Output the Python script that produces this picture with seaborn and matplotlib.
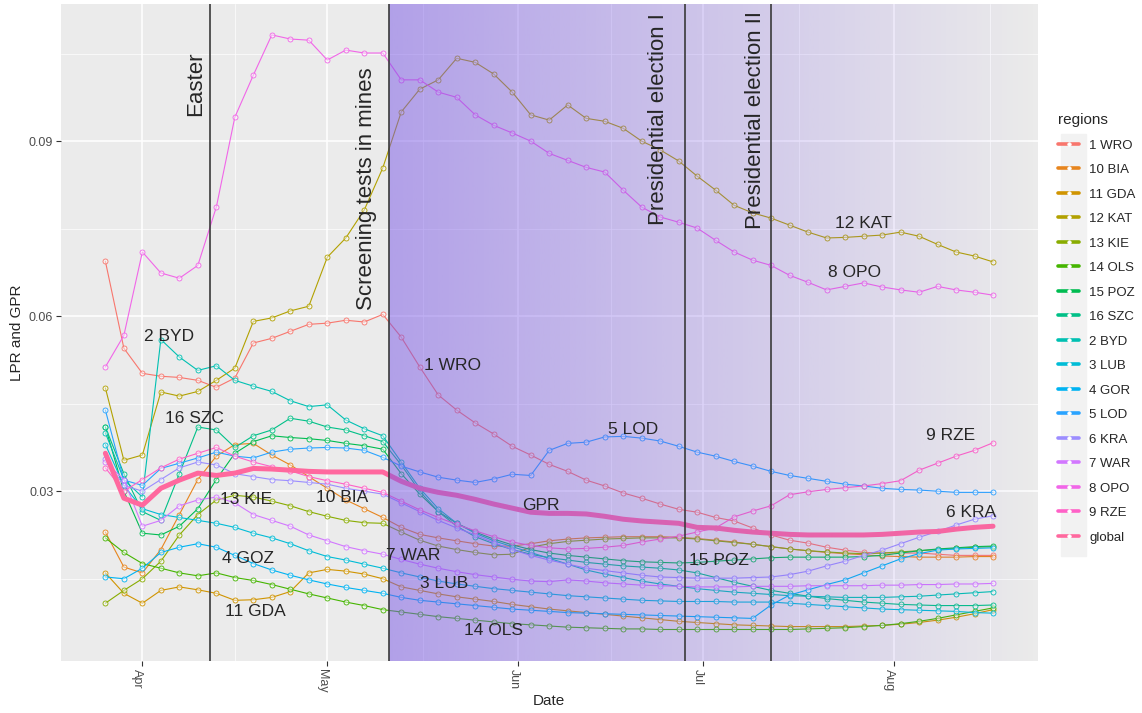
import numpy as np
import pandas as pd
import matplotlib
matplotlib.use('Agg')
import matplotlib.pyplot as plt
import matplotlib.dates as mdates
from matplotlib.lines import Line2D
from matplotlib.patches import Rectangle
from matplotlib.transforms import ScaledTranslation
import seaborn as sns

# values, one every 3rd day
dates = pd.date_range('2020-03-26', '2020-08-17', freq='3D')

wro = [0.0694, 0.0545, 0.0502, 0.0497, 0.0495, 0.0490, 0.0478, 0.0494, 0.0554, 0.0562,
       0.0574, 0.0586, 0.0588, 0.0593, 0.0590, 0.0603, 0.0564, 0.0513, 0.0465, 0.0439,
       0.0417, 0.0398, 0.0377, 0.0362, 0.0346, 0.0334, 0.0319, 0.0309, 0.0297, 0.0288,
       0.0278, 0.0269, 0.0264, 0.0255, 0.0249, 0.0237, 0.0225, 0.0216, 0.0211, 0.0204,
       0.0199, 0.0195, 0.0194, 0.0194, 0.0194, 0.0192, 0.0190, 0.0190, 0.0190]
bia = [0.0230, 0.0170, 0.0160, 0.0200, 0.0260, 0.0320, 0.0360, 0.0380, 0.0382, 0.0362,
       0.0345, 0.0325, 0.0305, 0.0285, 0.0270, 0.0255, 0.0238, 0.0226, 0.0220, 0.0215,
       0.0210, 0.0206, 0.0206, 0.0210, 0.0215, 0.0218, 0.0220, 0.0221, 0.0222, 0.0222,
       0.0222, 0.0221, 0.0219, 0.0216, 0.0213, 0.0209, 0.0205, 0.0201, 0.0198, 0.0195,
       0.0193, 0.0191, 0.0189, 0.0188, 0.0187, 0.0187, 0.0187, 0.0188, 0.0188]
gda = [0.0160, 0.0125, 0.0108, 0.0130, 0.0136, 0.0131, 0.0125, 0.0113, 0.0114, 0.0118,
       0.0128, 0.0160, 0.0166, 0.0163, 0.0158, 0.0150, 0.0136, 0.0130, 0.0124, 0.0119,
       0.0115, 0.0111, 0.0106, 0.0102, 0.0098, 0.0095, 0.0092, 0.0089, 0.0086, 0.0083,
       0.0080, 0.0077, 0.0075, 0.0073, 0.0071, 0.0070, 0.0069, 0.0068, 0.0068, 0.0068,
       0.0068, 0.0069, 0.0070, 0.0072, 0.0075, 0.0079, 0.0084, 0.0090, 0.0097]
kat = [0.0477, 0.0353, 0.0362, 0.0470, 0.0463, 0.0471, 0.0490, 0.0511, 0.0591, 0.0597,
       0.0609, 0.0617, 0.0701, 0.0734, 0.0782, 0.0854, 0.0950, 0.0989, 0.1005, 0.1042,
       0.1035, 0.1015, 0.0984, 0.0945, 0.0936, 0.0962, 0.0939, 0.0934, 0.0922, 0.0900,
       0.0885, 0.0866, 0.0840, 0.0816, 0.0790, 0.0777, 0.0768, 0.0756, 0.0744, 0.0734,
       0.0735, 0.0737, 0.0739, 0.0744, 0.0737, 0.0723, 0.0710, 0.0703, 0.0693]
kie = [0.0108, 0.0130, 0.0150, 0.0180, 0.0225, 0.0260, 0.0285, 0.0293, 0.0290, 0.0283,
       0.0275, 0.0265, 0.0257, 0.0250, 0.0246, 0.0245, 0.0230, 0.0216, 0.0206, 0.0200,
       0.0195, 0.0191, 0.0192, 0.0204, 0.0210, 0.0214, 0.0216, 0.0218, 0.0219, 0.0220,
       0.0220, 0.0220, 0.0218, 0.0215, 0.0212, 0.0209, 0.0205, 0.0201, 0.0198, 0.0196,
       0.0194, 0.0193, 0.0194, 0.0196, 0.0198, 0.0200, 0.0202, 0.0204, 0.0205]
ols = [0.0220, 0.0195, 0.0176, 0.0168, 0.0160, 0.0155, 0.0160, 0.0152, 0.0147, 0.0140,
       0.0132, 0.0124, 0.0117, 0.0110, 0.0104, 0.0097, 0.0093, 0.0089, 0.0085, 0.0082,
       0.0079, 0.0076, 0.0073, 0.0071, 0.0069, 0.0067, 0.0066, 0.0065, 0.0064, 0.0064,
       0.0063, 0.0063, 0.0063, 0.0063, 0.0063, 0.0063, 0.0063, 0.0063, 0.0064, 0.0065,
       0.0066, 0.0068, 0.0070, 0.0073, 0.0077, 0.0082, 0.0088, 0.0094, 0.0100]
poz = [0.0410, 0.0300, 0.0228, 0.0225, 0.0240, 0.0270, 0.0320, 0.0365, 0.0385, 0.0395,
       0.0392, 0.0390, 0.0387, 0.0382, 0.0378, 0.0372, 0.0330, 0.0295, 0.0265, 0.0245,
       0.0230, 0.0218, 0.0208, 0.0200, 0.0194, 0.0190, 0.0187, 0.0184, 0.0181, 0.0179,
       0.0178, 0.0177, 0.0178, 0.0180, 0.0182, 0.0184, 0.0186, 0.0187, 0.0187, 0.0187,
       0.0187, 0.0188, 0.0190, 0.0194, 0.0198, 0.0201, 0.0203, 0.0205, 0.0206]
szc = [0.0410, 0.0330, 0.0265, 0.0250, 0.0330, 0.0410, 0.0405, 0.0375, 0.0395, 0.0405,
       0.0425, 0.0420, 0.0410, 0.0405, 0.0395, 0.0385, 0.0345, 0.0300, 0.0265, 0.0240,
       0.0222, 0.0210, 0.0200, 0.0192, 0.0186, 0.0182, 0.0178, 0.0175, 0.0172, 0.0170,
       0.0168, 0.0165, 0.0160, 0.0152, 0.0144, 0.0137, 0.0130, 0.0125, 0.0120, 0.0116,
       0.0113, 0.0110, 0.0108, 0.0106, 0.0105, 0.0104, 0.0104, 0.0104, 0.0105]
byd = [0.0400, 0.0320, 0.0290, 0.0560, 0.0530, 0.0507, 0.0515, 0.0490, 0.0480, 0.0471,
       0.0455, 0.0445, 0.0448, 0.0422, 0.0407, 0.0395, 0.0350, 0.0305, 0.0270, 0.0245,
       0.0228, 0.0215, 0.0205, 0.0195, 0.0185, 0.0175, 0.0165, 0.0158, 0.0152, 0.0146,
       0.0141, 0.0137, 0.0133, 0.0130, 0.0127, 0.0125, 0.0123, 0.0121, 0.0120, 0.0119,
       0.0118, 0.0118, 0.0118, 0.0119, 0.0120, 0.0122, 0.0124, 0.0126, 0.0128]
lub = [0.0380, 0.0310, 0.0270, 0.0260, 0.0255, 0.0250, 0.0245, 0.0238, 0.0228, 0.0220,
       0.0210, 0.0198, 0.0188, 0.0182, 0.0175, 0.0168, 0.0160, 0.0153, 0.0146, 0.0141,
       0.0137, 0.0133, 0.0130, 0.0127, 0.0124, 0.0121, 0.0119, 0.0117, 0.0115, 0.0113,
       0.0112, 0.0111, 0.0111, 0.0111, 0.0110, 0.0110, 0.0110, 0.0108, 0.0106, 0.0104,
       0.0102, 0.0100, 0.0098, 0.0097, 0.0096, 0.0095, 0.0094, 0.0092, 0.0091]
gor = [0.0153, 0.0150, 0.0168, 0.0195, 0.0204, 0.0210, 0.0204, 0.0190, 0.0176, 0.0165,
       0.0156, 0.0148, 0.0141, 0.0135, 0.0130, 0.0125, 0.0118, 0.0113, 0.0110, 0.0107,
       0.0104, 0.0101, 0.0098, 0.0096, 0.0094, 0.0092, 0.0091, 0.0090, 0.0089, 0.0088,
       0.0087, 0.0086, 0.0085, 0.0084, 0.0083, 0.0082, 0.0105, 0.0122, 0.0131, 0.0140,
       0.0148, 0.0160, 0.0172, 0.0184, 0.0193, 0.0199, 0.0201, 0.0202, 0.0203]
lod = [0.0439, 0.0319, 0.0310, 0.0339, 0.0348, 0.0357, 0.0367, 0.0360, 0.0357, 0.0367,
       0.0372, 0.0374, 0.0375, 0.0374, 0.0370, 0.0358, 0.0343, 0.0333, 0.0324, 0.0319,
       0.0315, 0.0321, 0.0329, 0.0327, 0.0370, 0.0382, 0.0384, 0.0393, 0.0394, 0.0391,
       0.0386, 0.0377, 0.0367, 0.0360, 0.0351, 0.0343, 0.0334, 0.0327, 0.0322, 0.0317,
       0.0312, 0.0309, 0.0305, 0.0303, 0.0302, 0.0300, 0.0298, 0.0298, 0.0298]
kra = [0.0355, 0.0310, 0.0300, 0.0320, 0.0340, 0.0350, 0.0345, 0.0330, 0.0325, 0.0320,
       0.0318, 0.0315, 0.0312, 0.0305, 0.0300, 0.0295, 0.0280, 0.0265, 0.0250, 0.0237,
       0.0225, 0.0212, 0.0200, 0.0190, 0.0182, 0.0175, 0.0168, 0.0164, 0.0160, 0.0156,
       0.0153, 0.0152, 0.0151, 0.0151, 0.0151, 0.0152, 0.0153, 0.0157, 0.0163, 0.0172,
       0.0180, 0.0190, 0.0199, 0.0210, 0.0221, 0.0231, 0.0242, 0.0252, 0.0258]
war = [0.0350, 0.0320, 0.0240, 0.0250, 0.0275, 0.0285, 0.0290, 0.0280, 0.0260, 0.0250,
       0.0240, 0.0225, 0.0215, 0.0205, 0.0198, 0.0192, 0.0183, 0.0175, 0.0168, 0.0162,
       0.0157, 0.0153, 0.0149, 0.0146, 0.0145, 0.0148, 0.0146, 0.0143, 0.0141, 0.0139,
       0.0138, 0.0137, 0.0136, 0.0136, 0.0136, 0.0137, 0.0137, 0.0137, 0.0138, 0.0138,
       0.0138, 0.0138, 0.0139, 0.0139, 0.0140, 0.0140, 0.0141, 0.0141, 0.0142]
opo = [0.0513, 0.0567, 0.0710, 0.0674, 0.0665, 0.0687, 0.0787, 0.0941, 0.1013, 0.1082,
       0.1075, 0.1073, 0.1039, 0.1056, 0.1051, 0.1051, 0.1005, 0.1005, 0.0984, 0.0975,
       0.0945, 0.0927, 0.0914, 0.0900, 0.0879, 0.0867, 0.0855, 0.0847, 0.0816, 0.0787,
       0.0770, 0.0761, 0.0751, 0.0730, 0.0710, 0.0696, 0.0687, 0.0670, 0.0658, 0.0645,
       0.0651, 0.0657, 0.0650, 0.0645, 0.0641, 0.0651, 0.0645, 0.0641, 0.0636]
rze = [0.0340, 0.0300, 0.0320, 0.0340, 0.0355, 0.0365, 0.0375, 0.0360, 0.0350, 0.0342,
       0.0335, 0.0325, 0.0318, 0.0312, 0.0305, 0.0298, 0.0283, 0.0268, 0.0255, 0.0243,
       0.0232, 0.0222, 0.0213, 0.0207, 0.0203, 0.0201, 0.0202, 0.0204, 0.0207, 0.0213,
       0.0218, 0.0223, 0.0230, 0.0237, 0.0256, 0.0266, 0.0275, 0.0294, 0.0299, 0.0303,
       0.0306, 0.0309, 0.0313, 0.0318, 0.0336, 0.0348, 0.0360, 0.0370, 0.0383]
gpr = [0.0365, 0.0288, 0.0276, 0.0305, 0.0319, 0.0331, 0.0327, 0.0331, 0.0339, 0.0338,
       0.0336, 0.0334, 0.0333, 0.0333, 0.0333, 0.0333, 0.0317, 0.0305, 0.0298, 0.0293,
       0.0286, 0.0278, 0.0271, 0.0264, 0.0262, 0.0262, 0.0261, 0.0257, 0.0252, 0.0249,
       0.0247, 0.0245, 0.0238, 0.0237, 0.0233, 0.0230, 0.0228, 0.0226, 0.0225, 0.0225,
       0.0225, 0.0225, 0.0226, 0.0228, 0.0230, 0.0231, 0.0235, 0.0238, 0.0240]

regions = ['1 WRO', '10 BIA', '11 GDA', '12 KAT', '13 KIE', '14 OLS', '15 POZ', '16 SZC',
           '2 BYD', '3 LUB', '4 GOR', '5 LOD', '6 KRA', '7 WAR', '8 OPO', '9 RZE', 'global']
series = [wro, bia, gda, kat, kie, ols, poz, szc, byd, lub, gor, lod, kra, war, opo, rze, gpr]

# in-plot labels (days after 1 Apr, value)
label_text = ['2 BYD', '16 SZC', '13 KIE', '10 BIA', '4 GOZ', '11 GDA', '7 WAR', '3 LUB',
              '14 OLS', '1 WRO', '5 LOD', 'GPR', '15 POZ', '12 KAT', '8 OPO', '9 RZE', '6 KRA']
label_day = [4.3, 8.4, 16.8, 32.4, 17.2, 18.3, 43.9, 49.0,
             56.9, 50.3, 79.6, 64.7, 93.6, 117.0, 115.5, 131.1, 134.4]
label_val = [0.0566, 0.0425, 0.0285, 0.0290, 0.0185, 0.0093, 0.0190, 0.0142,
             0.0062, 0.0516, 0.0405, 0.0276, 0.0182, 0.0758, 0.0674, 0.0396, 0.0264]

events = ['Easter', 'Screening tests in mines', 'Presidential election I', 'Presidential election II']
event_dates = ['2020-04-12', '2020-05-11', '2020-06-28', '2020-07-12']
event_label_day = [8.6, 36.3, 83.7, 99.5]
event_label_val = [0.0998, 0.0819, 0.0938, 0.0936]


def gg_hue(n, l=65, c=100):
    '''ggplot2 default hue palette (hcl, D65 white)'''
    hues = np.linspace(15, 375, n + 1)[:-1]
    xn, yn, zn = 95.047, 100.0, 108.883
    un = 4 * xn / (xn + 15 * yn + 3 * zn)
    vn = 9 * yn / (xn + 15 * yn + 3 * zn)
    y = yn * ((l + 16) / 116) ** 3
    m = np.array([[3.240479, -1.537150, -0.498535],
                  [-0.969256, 1.875992, 0.041556],
                  [0.055648, -0.204043, 1.057311]])
    cols = []
    for h in hues:
        u = c * np.cos(np.radians(h)) / (13 * l) + un
        v = c * np.sin(np.radians(h)) / (13 * l) + vn
        x = 9 * y * u / (4 * v)
        z = -x / 3 - 5 * y + 3 * y / v
        rgb = m @ np.array([x, y, z]) / 100
        rgb = np.where(rgb <= 0.0031308, 12.92 * rgb, 1.055 * np.abs(rgb) ** (1 / 2.4) - 0.055)
        cols.append(tuple(np.clip(rgb, 0, 1)))
    return cols


df = pd.DataFrame({'Date': np.tile(dates, len(regions)),
                   'regions': np.repeat(regions, len(dates)),
                   'LPR': np.concatenate(series)})
pal = dict(zip(regions, gg_hue(len(regions))))

sns.set_style('darkgrid', {'axes.facecolor': '#EBEBEB', 'grid.color': 'white'})
plt.rcParams['font.family'] = ['Liberation Sans', 'DejaVu Sans']

fig = plt.figure(figsize=(11.42, 7.13), dpi=100)
ax = fig.add_axes([61 / 1142, 1 - 661 / 713, 977 / 1142, 657 / 713])

reg = df[df['regions'] != 'global']
sns.lineplot(data=reg, x='Date', y='LPR', hue='regions', hue_order=regions[:-1], palette=pal,
             marker='o', markersize=3.6, linewidth=0.8, legend=False, ax=ax, zorder=2)
for line in ax.lines:
    line.set_markeredgecolor(line.get_color())
    line.set_markerfacecolor((1, 1, 1, 0.45))
    line.set_markeredgewidth(0.6)

sns.lineplot(data=df[df['regions'] == 'global'], x='Date', y='LPR', color=pal['global'],
             linewidth=3.6, legend=False, ax=ax, zorder=2)

apr1 = mdates.date2num(pd.Timestamp('2020-04-01'))
x_lo = mdates.date2num(dates[0]) - 7.2
x_hi = mdates.date2num(dates[-1]) + 7.3
y_lo, y_hi = 0.0009, 0.1135

# fading purple band after the screening tests, drawn over the lines
x0 = mdates.date2num(pd.Timestamp(event_dates[1]))
grad = np.zeros((1, 300, 4))
grad[..., 0], grad[..., 1], grad[..., 2] = 120 / 255, 85 / 255, 230 / 255
grad[..., 3] = np.linspace(0.5, 0.0, 300)
ax.imshow(grad, extent=[x0, x_hi, y_lo, y_hi], aspect='auto', zorder=3, interpolation='bilinear')

for d in event_dates:
    ax.axvline(mdates.date2num(pd.Timestamp(d)), color='#3a3a3a', lw=1.2, zorder=4)
for name, d, v in zip(events, event_label_day, event_label_val):
    ax.text(apr1 + d, v, name, rotation=90, ha='center', va='center', fontsize=16, zorder=5)
for name, d, v in zip(label_text, label_day, label_val):
    ax.text(apr1 + d, v, name, ha='center', va='center', fontsize=12.5, zorder=5)

months = pd.date_range('2020-03-01', '2020-09-01', freq='MS')
mnum = mdates.date2num(months)
ax.set_xticks(mnum[1:-1])
ax.set_xticklabels([m.strftime('%b') for m in months[1:-1]])
ax.set_xticks((mnum[:-1] + mnum[1:]) / 2, minor=True)
ax.set_yticks([0.03, 0.06, 0.09])
ax.set_yticklabels(['0.03', '0.06', '0.09'])
ax.set_yticks([0.015, 0.045, 0.075, 0.105], minor=True)
# limits last: set_xticks would widen them for the March minor tick
ax.set_xlim(x_lo, x_hi)
ax.set_ylim(y_lo, y_hi)
ax.grid(which='major', color='white', lw=1.1)
ax.grid(which='minor', color='white', lw=0.5)
ax.set_axisbelow(True)
for s in ax.spines.values():
    s.set_visible(False)
ax.tick_params(which='major', length=3.5, width=0.8, color='#333333', labelcolor='#4D4D4D',
               labelsize=9, bottom=True, left=True, pad=2)
ax.tick_params(which='minor', length=0)
for lbl in ax.get_xticklabels():
    lbl.set_rotation(-90)
    lbl.set_va('top')
    lbl.set_ha('center')
    lbl.set_transform(lbl.get_transform() + ScaledTranslation(-5 / 100, 0, fig.dpi_scale_trans))
ax.set_xlabel('')
ax.set_ylabel('')
fig.text(17 / 1142, 1 - 333 / 713, 'LPR and GPR', rotation=90, ha='center', va='center', fontsize=11)
fig.text(549 / 1142, 1 - 701 / 713, 'Date', ha='center', va='center', fontsize=11)

# legend, grey key column like ggplot
fig.patches.append(Rectangle((1061 / 1142, 1 - 556 / 713), 25 / 1142, 422 / 713,
                             transform=fig.transFigure, color='#F2F2F2', zorder=0))
handles = [Line2D([0], [0], color=pal[r], lw=2.6, marker='o', ms=2.6, mfc='white', mec='white',
                  mew=0.4) for r in regions]
leg = fig.legend(handles, regions, loc='upper left', bbox_to_anchor=(1058 / 1142, 1 - 113 / 713),
                 frameon=False, title='regions', fontsize=9.5, title_fontsize=11,
                 handlelength=1.6, handletextpad=0.75, labelspacing=0.93, borderpad=0,
                 borderaxespad=0, alignment='left')

fig.savefig('out.png', dpi=100)
